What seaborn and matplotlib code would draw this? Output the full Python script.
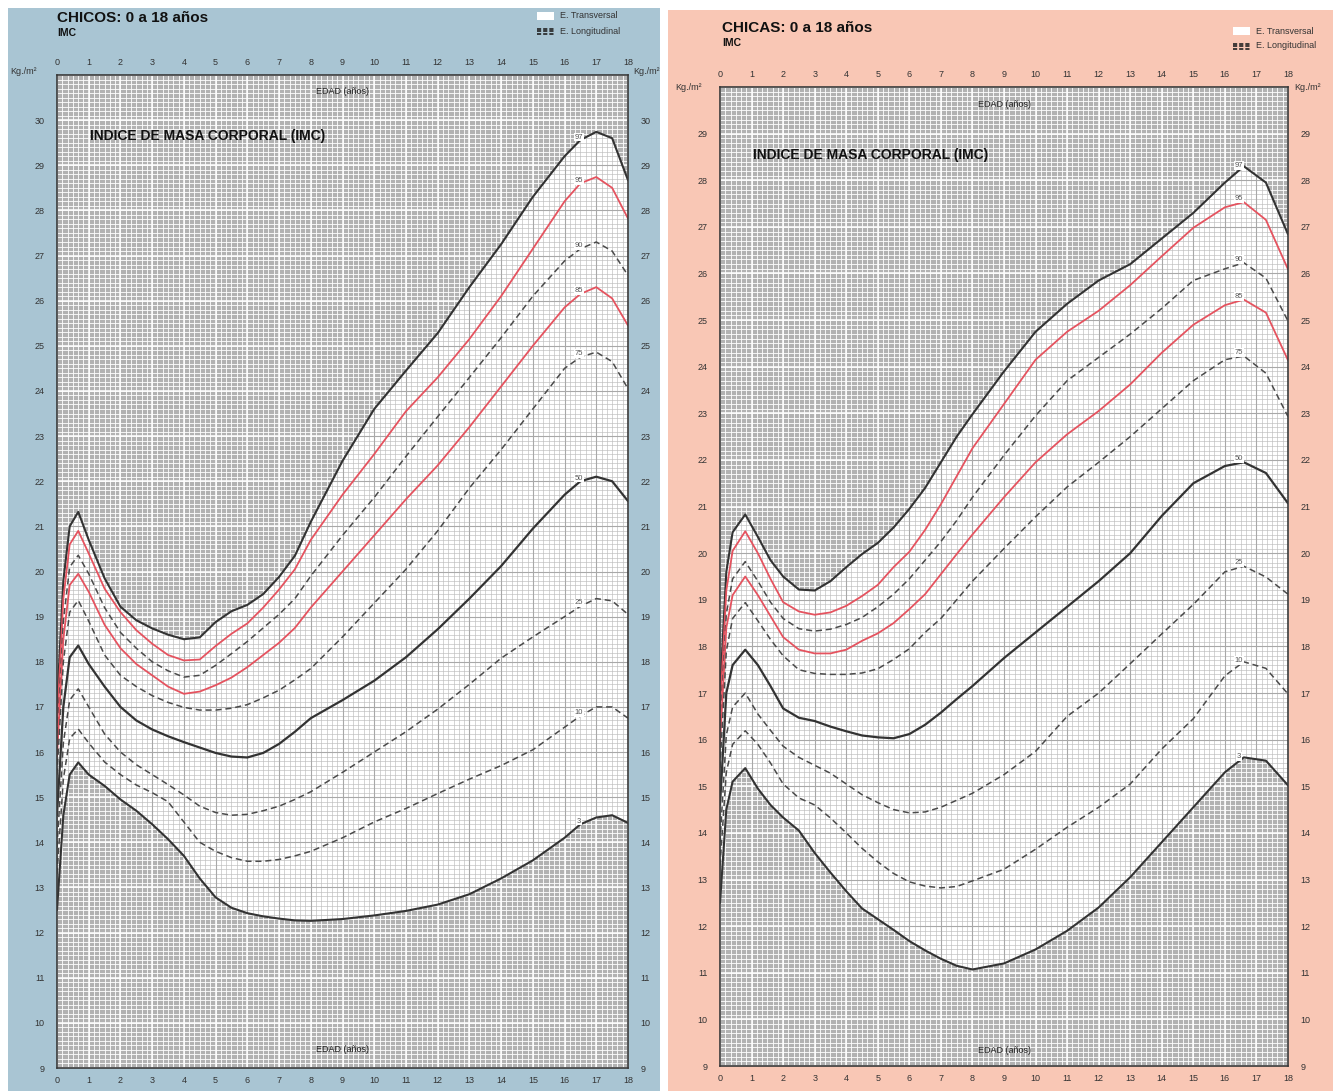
import numpy as np
import pandas as pd
import matplotlib
matplotlib.use("Agg")
import matplotlib.pyplot as plt
import seaborn as sns
from matplotlib.patches import Rectangle
from matplotlib.lines import Line2D
from matplotlib import font_manager

# ---------------- DATA ----------------
EDAD_CHICOS = [0, 0.2, 0.4, 0.67, 1, 1.5, 2, 2.5, 3, 3.5, 4, 4.5, 5, 5.5, 6, 6.5, 7, 7.5, 8,
               9, 10, 11, 12, 13, 14, 15, 16, 16.5, 17, 17.5, 18]
CHICOS_P97 = [17.0, 19.8, 21.0, 21.32, 20.7, 19.85, 19.22, 18.92, 18.74, 18.6, 18.5, 18.54, 18.88, 19.12, 19.26,
              19.5, 19.88, 20.35, 21.1, 22.45, 23.6, 24.45, 25.28, 26.3, 27.25, 28.3, 29.2, 29.56, 29.74, 29.6, 28.67]
CHICOS_P95 = [16.6, 19.4, 20.6, 20.9, 20.4, 19.62, 19.1, 18.7, 18.4, 18.15, 18.03, 18.05, 18.35, 18.62, 18.85,
              19.2, 19.6, 20.05, 20.7, 21.7, 22.6, 23.55, 24.3, 25.15, 26.1, 27.15, 28.2, 28.6, 28.74, 28.5, 27.82]
CHICOS_P90 = [16.2, 18.9, 20.1, 20.36, 19.95, 19.2, 18.65, 18.3, 18.0, 17.8, 17.66, 17.7, 17.92, 18.18, 18.45,
              18.75, 19.05, 19.4, 19.9, 20.8, 21.64, 22.55, 23.43, 24.3, 25.18, 26.1, 26.88, 27.15, 27.3, 27.1, 26.56]
CHICOS_P85 = [15.9, 18.5, 19.7, 19.95, 19.55, 18.82, 18.3, 17.95, 17.7, 17.45, 17.29, 17.34, 17.48, 17.65, 17.88,
              18.15, 18.42, 18.75, 19.2, 20.0, 20.8, 21.6, 22.35, 23.2, 24.1, 25.0, 25.85, 26.15, 26.3, 26.05, 25.45]
CHICOS_P75 = [15.5, 18.0, 19.1, 19.36, 18.9, 18.15, 17.7, 17.45, 17.25, 17.1, 16.99, 16.93, 16.93, 16.97, 17.05,
              17.2, 17.37, 17.6, 17.85, 18.55, 19.3, 20.05, 20.9, 21.85, 22.7, 23.6, 24.5, 24.75, 24.86, 24.65, 24.05]
CHICOS_P50 = [14.6, 17.0, 18.1, 18.36, 17.95, 17.45, 17.0, 16.7, 16.5, 16.35, 16.22, 16.1, 15.98, 15.9, 15.88,
              15.98, 16.18, 16.45, 16.75, 17.15, 17.58, 18.1, 18.72, 19.4, 20.12, 20.95, 21.7, 22.0, 22.1, 22.0, 21.56]
CHICOS_P25 = [13.9, 16.2, 17.15, 17.4, 17.0, 16.4, 16.0, 15.72, 15.5, 15.28, 15.05, 14.8, 14.66, 14.6, 14.62,
              14.7, 14.8, 14.95, 15.12, 15.55, 16.0, 16.45, 16.95, 17.5, 18.08, 18.55, 19.0, 19.23, 19.4, 19.35, 19.05]
CHICOS_P10 = [13.3, 15.4, 16.3, 16.51, 16.2, 15.78, 15.5, 15.27, 15.1, 14.9, 14.45, 14.0, 13.8, 13.66, 13.58,
              13.58, 13.62, 13.7, 13.8, 14.1, 14.45, 14.75, 15.08, 15.4, 15.7, 16.05, 16.55, 16.8, 17.0, 17.0, 16.75]
CHICOS_P3 = [12.5, 14.6, 15.5, 15.77, 15.5, 15.25, 14.95, 14.7, 14.4, 14.07, 13.7, 13.2, 12.78, 12.55, 12.43,
             12.36, 12.31, 12.27, 12.26, 12.3, 12.38, 12.48, 12.62, 12.85, 13.2, 13.6, 14.1, 14.4, 14.55, 14.6, 14.43]

EDAD_CHICAS = [0, 0.2, 0.4, 0.8, 1.2, 1.6, 2, 2.5, 3, 3.5, 4, 4.5, 5, 5.5, 6, 6.5, 7, 7.5, 8,
               9, 10, 11, 12, 13, 14, 15, 16, 16.6, 17.3, 18]
CHICAS_P97 = [17.0, 19.6, 20.45, 20.83, 20.35, 19.85, 19.5, 19.22, 19.2, 19.4, 19.7, 19.98, 20.22, 20.55, 20.95,
              21.4, 21.95, 22.5, 22.98, 23.9, 24.75, 25.35, 25.85, 26.2, 26.75, 27.3, 27.95, 28.3, 27.95, 26.84]
CHICAS_P95 = [16.6, 19.2, 20.05, 20.47, 20.0, 19.45, 18.95, 18.75, 18.68, 18.73, 18.87, 19.08, 19.32, 19.7, 20.03,
              20.5, 21.05, 21.65, 22.25, 23.2, 24.15, 24.75, 25.2, 25.75, 26.37, 26.98, 27.42, 27.53, 27.15, 26.09]
CHICAS_P90 = [16.2, 18.7, 19.45, 19.82, 19.4, 18.95, 18.6, 18.38, 18.33, 18.37, 18.47, 18.62, 18.85, 19.12, 19.45,
              19.85, 20.25, 20.7, 21.2, 22.1, 22.95, 23.7, 24.2, 24.7, 25.25, 25.85, 26.1, 26.23, 25.9, 24.98]
CHICAS_P85 = [15.9, 18.4, 19.1, 19.5, 19.1, 18.65, 18.2, 17.93, 17.85, 17.85, 17.93, 18.12, 18.28, 18.5, 18.8,
              19.12, 19.55, 19.98, 20.4, 21.2, 21.95, 22.55, 23.05, 23.62, 24.3, 24.9, 25.32, 25.44, 25.16, 24.14]
CHICAS_P75 = [15.4, 17.9, 18.6, 18.94, 18.55, 18.15, 17.8, 17.5, 17.42, 17.4, 17.4, 17.43, 17.52, 17.72, 17.95,
              18.3, 18.6, 19.0, 19.4, 20.1, 20.78, 21.42, 21.95, 22.5, 23.1, 23.7, 24.15, 24.23, 23.86, 22.93]
CHICAS_P50 = [14.6, 17.0, 17.6, 17.93, 17.6, 17.15, 16.67, 16.47, 16.4, 16.28, 16.18, 16.09, 16.05, 16.03, 16.12,
              16.32, 16.58, 16.87, 17.15, 17.75, 18.3, 18.85, 19.4, 20.0, 20.8, 21.5, 21.87, 21.95, 21.72, 21.07]
CHICAS_P25 = [13.8, 16.1, 16.7, 17.0, 16.55, 16.2, 15.86, 15.62, 15.45, 15.28, 15.05, 14.82, 14.65, 14.5, 14.43,
              14.45, 14.55, 14.7, 14.85, 15.25, 15.75, 16.5, 17.0, 17.63, 18.27, 18.9, 19.6, 19.72, 19.49, 19.12]
CHICAS_P10 = [13.3, 15.3, 15.9, 16.19, 15.9, 15.5, 15.05, 14.75, 14.6, 14.32, 14.0, 13.67, 13.38, 13.13, 12.95,
              12.86, 12.82, 12.85, 12.97, 13.22, 13.65, 14.12, 14.55, 15.05, 15.8, 16.45, 17.37, 17.67, 17.53, 16.98]
CHICAS_P3 = [12.5, 14.5, 15.1, 15.39, 14.95, 14.6, 14.33, 14.05, 13.57, 13.15, 12.75, 12.38, 12.15, 11.92, 11.68,
             11.48, 11.3, 11.15, 11.07, 11.2, 11.5, 11.9, 12.4, 13.05, 13.8, 14.55, 15.3, 15.62, 15.55, 15.02]

PERCENTILES = ["97", "95", "90", "85", "75", "50", "25", "10", "3"]
X_TICKS = list(range(0, 19))
Y_TICKS_CHICOS = list(range(9, 31))
Y_TICKS_CHICAS = list(range(9, 30))

CHICOS = dict(zip(PERCENTILES, [CHICOS_P97, CHICOS_P95, CHICOS_P90, CHICOS_P85, CHICOS_P75,
                                 CHICOS_P50, CHICOS_P25, CHICOS_P10, CHICOS_P3]))
CHICAS = dict(zip(PERCENTILES, [CHICAS_P97, CHICAS_P95, CHICAS_P90, CHICAS_P85, CHICAS_P75,
                                 CHICAS_P50, CHICAS_P25, CHICAS_P10, CHICAS_P3]))

# ---------------- STYLE ----------------
sns.set_theme(style="white")
avail = {f.name for f in font_manager.fontManager.ttflist}
fams = [f for f in ["Liberation Sans Narrow", "Liberation Sans", "DejaVu Sans"] if f in avail]
plt.rcParams["font.family"] = fams

BLUE = "#a9c5d3"
PINK = "#f9c7b5"
GRAY_BG = "#b2b2b2"
RED = "#e5535f"
DARK = "#333333"
DASH = "#4a4a4a"

STYLE = {
    "97": dict(color=DARK, lw=1.5, dash=None),
    "95": dict(color=RED, lw=1.3, dash=None),
    "90": dict(color=DASH, lw=1.1, dash=(4, 2.5)),
    "85": dict(color=RED, lw=1.3, dash=None),
    "75": dict(color=DASH, lw=1.1, dash=(4, 2.5)),
    "50": dict(color=DARK, lw=1.6, dash=None),
    "25": dict(color=DASH, lw=1.1, dash=(4, 2.5)),
    "10": dict(color=DASH, lw=1.1, dash=(4, 2.5)),
    "3": dict(color=DARK, lw=1.5, dash=None),
}

W, H = 1333, 1091
fig = plt.figure(figsize=(W / 100, H / 100), dpi=100)
fig.patch.set_facecolor("white")


def fx(px):
    return px / W


def fy(py):
    return 1 - py / H


blue_rect = Rectangle((fx(8), 0), fx(660) - fx(8), fy(8), transform=fig.transFigure,
                      facecolor=BLUE, edgecolor="none", zorder=0)
pink_rect = Rectangle((fx(668), 0), fx(1333) - fx(668), fy(10), transform=fig.transFigure,
                      facecolor=PINK, edgecolor="none", zorder=0)
fig.add_artist(blue_rect)
fig.add_artist(pink_rect)


def draw_panel(ax, edad, series, ymax, yticks, label_x, edad_top_y, edad_bot_y, title_y):
    ax.set_xlim(0, 18)
    ax.set_ylim(9, ymax)
    ax.set_facecolor(GRAY_BG)

    minor_x = np.arange(0, 18.0001, 1 / 6)
    minor_y = np.arange(9, ymax + 0.0001, 0.1)
    major_x = np.arange(0, 19)
    major_y = np.arange(9, ymax + 1)

    # white grid over gray background
    ax.vlines(minor_x, 9, ymax, colors="white", lw=0.6, zorder=0.5)
    ax.hlines(minor_y, 0, 18, colors="white", lw=0.6, zorder=0.5)
    ax.vlines(major_x, 9, ymax, colors="white", lw=1.1, zorder=0.5)
    ax.hlines(major_y, 0, 18, colors="white", lw=1.1, zorder=0.5)

    # E. Transversal band (white) with gray grid inside
    band = ax.fill_between(edad, series["3"], series["97"], color="white", lw=0, zorder=0.6)
    clip = band.get_paths()[0]
    for lc in (ax.vlines(minor_x, 9, ymax, colors="#bcbcbc", lw=0.45, zorder=0.7),
               ax.hlines(minor_y, 0, 18, colors="#bcbcbc", lw=0.45, zorder=0.7),
               ax.vlines(major_x, 9, ymax, colors="#a8a8a8", lw=0.8, zorder=0.7),
               ax.hlines(major_y, 0, 18, colors="#a8a8a8", lw=0.8, zorder=0.7)):
        lc.set_clip_path(clip, ax.transData)

    for p in PERCENTILES:
        st = STYLE[p]
        df = pd.DataFrame({"edad": edad, "imc": series[p]})
        sns.lineplot(data=df, x="edad", y="imc", ax=ax, color=st["color"], linewidth=st["lw"],
                     zorder=3, legend=False)
        line = ax.lines[-1]
        if st["dash"] is not None:
            line.set_dashes(st["dash"])
        ly = np.interp(label_x, edad, series[p])
        ax.text(label_x, ly + 0.1, p, fontsize=5.5, color="#555555", ha="center", va="center",
                zorder=4, bbox=dict(boxstyle="square,pad=0.1", fc="white", ec="none"))

    ax.set_xlabel("")
    ax.set_ylabel("")
    ax.set_xticks(X_TICKS)
    ax.set_yticks(yticks)
    ax.tick_params(axis="x", which="both", length=0, top=True, labeltop=True, bottom=True,
                   labelbottom=True, labelsize=6.5, labelcolor="#333333", pad=6)
    ax.tick_params(axis="y", which="both", length=0, left=True, labelleft=True, right=True,
                   labelright=True, labelsize=6.5, labelcolor="#333333", pad=9)
    for s in ax.spines.values():
        s.set_visible(True)
        s.set_color("#3a3a3a")
        s.set_linewidth(1.2)
        s.set_zorder(5)

    ax.text(9, edad_top_y, "EDAD (años)", fontsize=6.5, ha="center", va="center", color="#222222", zorder=4)
    ax.text(9, edad_bot_y, "EDAD (años)", fontsize=6.5, ha="center", va="center", color="#222222", zorder=4)
    ax.text(1.04, title_y, "INDICE DE MASA CORPORAL (IMC)", fontsize=10, fontweight="bold",
            ha="left", va="center", color="#111111", zorder=4)


# Left: CHICOS
ax1 = fig.add_axes([fx(57), fy(1068), fx(628) - fx(57), fy(75) - fy(1068)])
draw_panel(ax1, EDAD_CHICOS, CHICOS, 31, Y_TICKS_CHICOS, 16.45, 30.64, 9.42, 29.64)

# Right: CHICAS
ax2 = fig.add_axes([fx(720), fy(1066), fx(1288) - fx(720), fy(87) - fy(1066)])
draw_panel(ax2, EDAD_CHICAS, CHICAS, 30, Y_TICKS_CHICAS, 16.45, 29.62, 9.34, 28.55)


def header(x0, ty, title, leg_x, leg_y, clip_rect, right_kg_x, kg_y):
    fig.text(fx(x0), fy(ty), title, fontsize=11, fontweight="bold", ha="left", va="center", color="#111111")
    fig.text(fx(x0), fy(ty + 15), "IMC", fontsize=7.5, fontweight="bold", ha="left", va="center", color="#111111")
    # legend
    fig.add_artist(Rectangle((fx(leg_x), fy(leg_y + 4)), fx(17), 8 / H, transform=fig.transFigure,
                             facecolor="white", edgecolor="none"))
    fig.text(fx(leg_x + 23), fy(leg_y), "E. Transversal", fontsize=6.5, ha="left", va="center", color="#333333")
    for dy in (-2.5, 0, 2.5):
        ln = Line2D([fx(leg_x), fx(leg_x + 17)], [fy(leg_y + 15 + dy)] * 2, transform=fig.transFigure,
                    color="#222222", lw=1.2, linestyle=(0, (2.5, 1.2)))
        fig.add_artist(ln)
    fig.text(fx(leg_x + 23), fy(leg_y + 15), "E. Longitudinal", fontsize=6.5, ha="left", va="center",
             color="#333333")
    # units
    fig.text(fx(x0 - 47), fy(kg_y), "Kg./m²", fontsize=6.5, ha="left", va="center", color="#333333")
    t = fig.text(fx(right_kg_x), fy(kg_y), "Kg./m²", fontsize=6.5, ha="left", va="center", color="#333333")
    t.set_clip_path(clip_rect)


header(57, 18, "CHICOS: 0 a 18 años", 537, 16, blue_rect, 633, 72)
header(722, 28, "CHICAS: 0 a 18 años", 1233, 31, pink_rect, 1294, 88)

fig.savefig("out.png", dpi=100, facecolor=fig.get_facecolor())
